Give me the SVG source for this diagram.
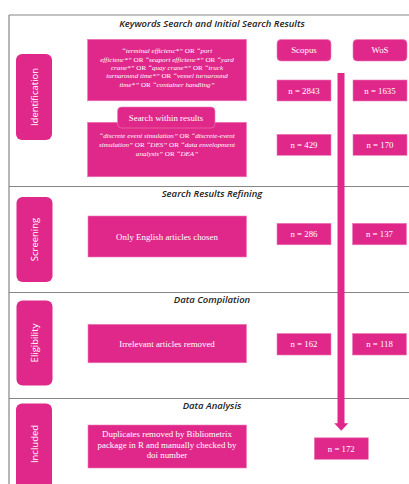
<svg xmlns="http://www.w3.org/2000/svg" width="409" height="484" viewBox="0 0 409 484">
<style>
.frame{stroke:#858585;stroke-width:1.2;fill:none}
.box{fill:#E0288B;stroke:#EC7DB6;stroke-width:0.6}
.pill{fill:#E0288B}
.ptxt{font-family:"Open Sans","DejaVu Sans",sans-serif;font-size:9.5px;fill:#fff;text-anchor:middle}
.ttl{font-family:"Open Sans","Liberation Sans",sans-serif;font-size:9.5px;font-style:italic;font-weight:600;fill:#222;text-anchor:middle}
.bt{font-family:"Liberation Serif","Times New Roman",serif;font-size:8.9px;fill:#fff;text-anchor:middle}
.nt{font-family:"Liberation Serif","Times New Roman",serif;font-size:8.8px;fill:#fff;text-anchor:middle}
.kw{font-family:"Liberation Serif","Times New Roman",serif;font-size:7.1px;font-style:italic;fill:#fff;text-anchor:middle}
.or{font-style:normal}
.arrow{fill:#E0288B}
</style>
<g id="frame">
<path class="frame" d="M9,15 H409 M9,15 V484 M9,186.5 H409 M9,292.5 H409 M9,398.5 H409"/>
</g>
<g id="titles">
<text class="ttl" x="212" y="26.5">Keywords Search and Initial Search Results</text>
<text class="ttl" x="212" y="197">Search Results Refining</text>
<text class="ttl" x="212" y="303">Data Compilation</text>
<text class="ttl" x="212" y="408.5">Data Analysis</text>
</g>
<g id="pill-identification">
<rect class="pill" x="16" y="54" width="36" height="86" rx="6"/>
<text class="ptxt" transform="translate(37.5,97) rotate(-90)">Identification</text>
</g>
<g id="pill-screening">
<rect class="pill" x="16.5" y="197" width="36" height="85" rx="6"/>
<text class="ptxt" transform="translate(38,239.5) rotate(-90)">Screening</text>
</g>
<g id="pill-eligibility">
<rect class="pill" x="16.5" y="300.5" width="36" height="85" rx="6"/>
<text class="ptxt" transform="translate(38,343) rotate(-90)">Eligibility</text>
</g>
<g id="pill-included">
<rect class="pill" x="16" y="403.5" width="36" height="90" rx="6"/>
<text class="ptxt" transform="translate(37.5,444) rotate(-90)">Included</text>
</g>
<g id="connectors">
<rect class="arrow" x="337.5" y="73" width="7" height="351"/>
<polygon class="arrow" points="334.3,423.3 348.3,423.3 341.2,430.8"/>
</g>
<g id="keywords">
<rect class="box" x="87.5" y="39.3" width="159" height="61.5"/>
<text class="kw" x="167" y="53">“terminal efficienc*” <tspan class="or">OR</tspan> “port</text>
<text class="kw" x="167" y="61.6">efficienc*” <tspan class="or">OR</tspan> “seaport efficienc*” <tspan class="or">OR</tspan> “yard</text>
<text class="kw" x="167" y="70">crane*” <tspan class="or">OR</tspan> “quay crane*” <tspan class="or">OR</tspan> “truck</text>
<text class="kw" x="167" y="78.4">turnaround time*” <tspan class="or">OR</tspan> “vessel turnaround</text>
<text class="kw" x="167" y="86.8">time*” <tspan class="or">OR</tspan> “container handling”</text>
</g>
<g id="search-within">
<rect class="box" x="87.5" y="122.3" width="159" height="54.5"/>
<rect class="box" x="117.5" y="107" width="97.5" height="21" rx="4"/>
<text class="bt" x="166" y="120.5">Search within results</text>
<text class="kw" x="167" y="138.3">“discrete event simulation” <tspan class="or">OR</tspan> “discrete-event</text>
<text class="kw" x="167" y="147">simulation” <tspan class="or">OR</tspan> “DES” <tspan class="or">OR</tspan> “data envelopment</text>
<text class="kw" x="167" y="155.7">analysis” <tspan class="or">OR</tspan> “DEA”</text>
</g>
<g id="scopus">
<rect class="box" x="277" y="39.5" width="54" height="21.5" rx="4"/>
<text class="bt" x="304" y="53.4">Scopus</text>
</g>
<g id="wos">
<rect class="box" x="353" y="39.5" width="54" height="21.5" rx="4"/>
<text class="bt" x="380" y="53.4">WoS</text>
</g>
<g id="n2843"><rect class="box" x="277" y="80" width="54" height="21"/><text class="nt" x="304" y="93.5">n = 2843</text></g>
<g id="n1635"><rect class="box" x="353" y="80" width="54" height="21"/><text class="nt" x="380" y="93.5">n = 1635</text></g>
<g id="n429"><rect class="box" x="277" y="134.3" width="54" height="21"/><text class="nt" x="304" y="147.8">n = 429</text></g>
<g id="n170"><rect class="box" x="353" y="134.3" width="54" height="21"/><text class="nt" x="380" y="147.8">n = 170</text></g>
<g id="english">
<rect class="box" x="88" y="216" width="158.5" height="41"/>
<text class="bt" x="167" y="239.5">Only English articles chosen</text>
</g>
<g id="n286"><rect class="box" x="277" y="223.3" width="54" height="21.5"/><text class="nt" x="304" y="237">n = 286</text></g>
<g id="n137"><rect class="box" x="352.5" y="223.3" width="54" height="21.5"/><text class="nt" x="379.5" y="237">n = 137</text></g>
<g id="irrelevant">
<rect class="box" x="88" y="324.3" width="158.5" height="38.5"/>
<text class="bt" x="167" y="346.5">Irrelevant articles removed</text>
</g>
<g id="n162"><rect class="box" x="277" y="333.5" width="54" height="21.5"/><text class="nt" x="304" y="347.2">n = 162</text></g>
<g id="n118"><rect class="box" x="352.5" y="333.5" width="54" height="21.5"/><text class="nt" x="379.5" y="347.2">n = 118</text></g>
<g id="duplicates">
<rect class="box" x="88" y="425" width="158.5" height="43"/>
<text class="bt" x="167" y="437.3">Duplicates removed by Bibliometrix</text>
<text class="bt" x="167" y="447.6">package in R and manually checked by</text>
<text class="bt" x="167" y="457.9">doi number</text>
</g>
<g id="n172"><rect class="box" x="314.3" y="437.8" width="54" height="21.5"/><text class="nt" x="341.3" y="451.5">n = 172</text></g>
</svg>
